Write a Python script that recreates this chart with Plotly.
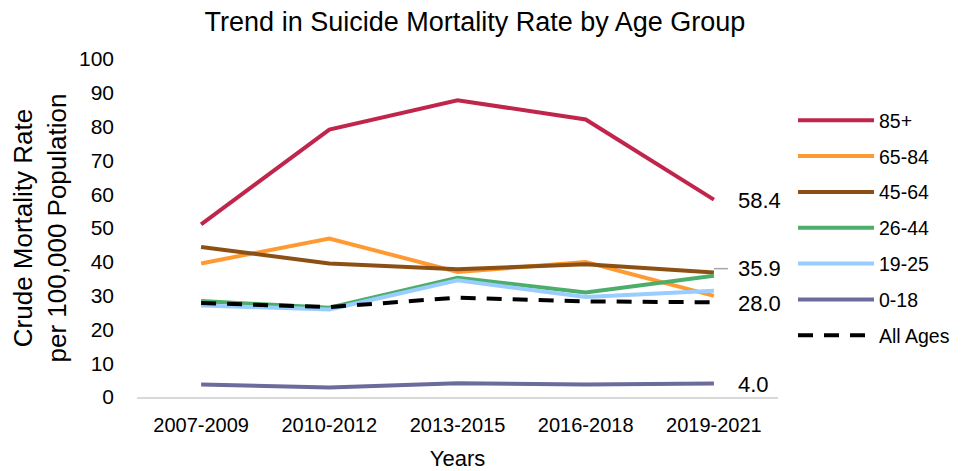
import plotly.graph_objects as go

periods = ["2007-2009", "2010-2012", "2013-2015", "2016-2018", "2019-2021"]

age_85_plus = [51.1, 79.1, 87.8, 82.1, 58.4]
age_65_84 = [39.5, 46.9, 37.0, 39.9, 29.9]
age_45_64 = [44.4, 39.5, 37.8, 39.3, 36.8]
age_26_44 = [28.4, 26.4, 35.3, 30.9, 35.9]
age_19_25 = [27.1, 25.9, 34.5, 29.6, 31.4]
age_0_18 = [3.7, 2.8, 4.1, 3.7, 4.0]
all_ages = [27.8, 26.6, 29.4, 28.3, 28.0]

series_names = ["85+", "65-84", "45-64", "26-44", "19-25", "0-18", "All Ages"]
series_values = [age_85_plus, age_65_84, age_45_64, age_26_44, age_19_25, age_0_18, all_ages]
series_colors = ["#C0264B", "#FF9A33", "#8C5014", "#4DAE6C", "#99CCFF", "#6B6B9E", "#000000"]
series_dash = ["solid", "solid", "solid", "solid", "solid", "solid", "15px,11px"]

# end-of-line labels: (series index, label text)
end_labels = [(0, "58.4"), (3, "35.9"), (6, "28.0"), (5, "4.0")]

FONT = "Liberation Sans, Arial, sans-serif"

# the page body adds an 8px offset; figure size is reduced accordingly
W, H = 953, 463
L, R, T, B = 129, 183, 51, 74

fig = go.Figure()
for name, vals, col, dash in zip(series_names, series_values, series_colors, series_dash):
    fig.add_trace(go.Scatter(
        x=periods, y=vals, name=name, mode="lines",
        line=dict(color=col, width=4, dash=dash),
        legendgroup=name,
    ))

for idx, txt in end_labels:
    yshift = 7 if txt == "35.9" else -1
    fig.add_annotation(
        x=periods[-1], y=series_values[idx][-1], text=txt,
        showarrow=False, xanchor="left", yanchor="middle",
        xshift=22, yshift=yshift,
        font=dict(family=FONT, size=22, color="#000000"),
    )

# leader line for the shifted 35.9 label
fig.add_shape(
    type="line", xref="x", yref="y",
    xsizemode="pixel", ysizemode="pixel",
    xanchor=4, yanchor=series_values[3][-1],
    x0=0, x1=14, y0=7, y1=7,
    line=dict(color="#A6A6A6", width=1.5),
)

pw = W - L - R
ph = H - T - B

fig.update_layout(
    width=W, height=H,
    margin=dict(l=L, r=R, t=T, b=B, autoexpand=False),
    paper_bgcolor="white", plot_bgcolor="white",
    title=dict(
        text="Trend in Suicide Mortality Rate by Age Group",
        x=467 / W, xanchor="center", y=1 - 14 / H, yanchor="middle",
        font=dict(family=FONT, size=27, color="#000000"),
    ),
    showlegend=True,
    legend=dict(
        x=(785 - L) / pw, xanchor="left",
        y=(H - B - 93) / ph, yanchor="top",
        font=dict(family=FONT, size=19.5, color="#000000"),
        tracegroupgap=7.5,
        itemwidth=76,
        bgcolor="rgba(0,0,0,0)",
    ),
    xaxis=dict(
        type="category",
        range=[-0.5, 4.5],
        automargin=False,
        showgrid=False,
        showline=True, linecolor="#D9D9D9", linewidth=1.5,
        ticks="",
        ticklabelstandoff=9,
        tickfont=dict(family=FONT, size=20, color="#000000"),
        title=dict(text="Years", font=dict(family=FONT, size=22, color="#000000"), standoff=21),
        zeroline=False,
    ),
    yaxis=dict(
        range=[0, 100],
        tickvals=list(range(0, 101, 10)),
        automargin=False,
        showgrid=False, zeroline=False, showline=False,
        ticks="",
        ticklabelstandoff=22,
        tickfont=dict(family=FONT, size=21, color="#000000"),
        title=dict(text="Crude Mortality Rate<br>per 100,000 Population",
                   font=dict(family=FONT, size=26, color="#000000"), standoff=23),
    ),
)

fig.write_html("out.html")
